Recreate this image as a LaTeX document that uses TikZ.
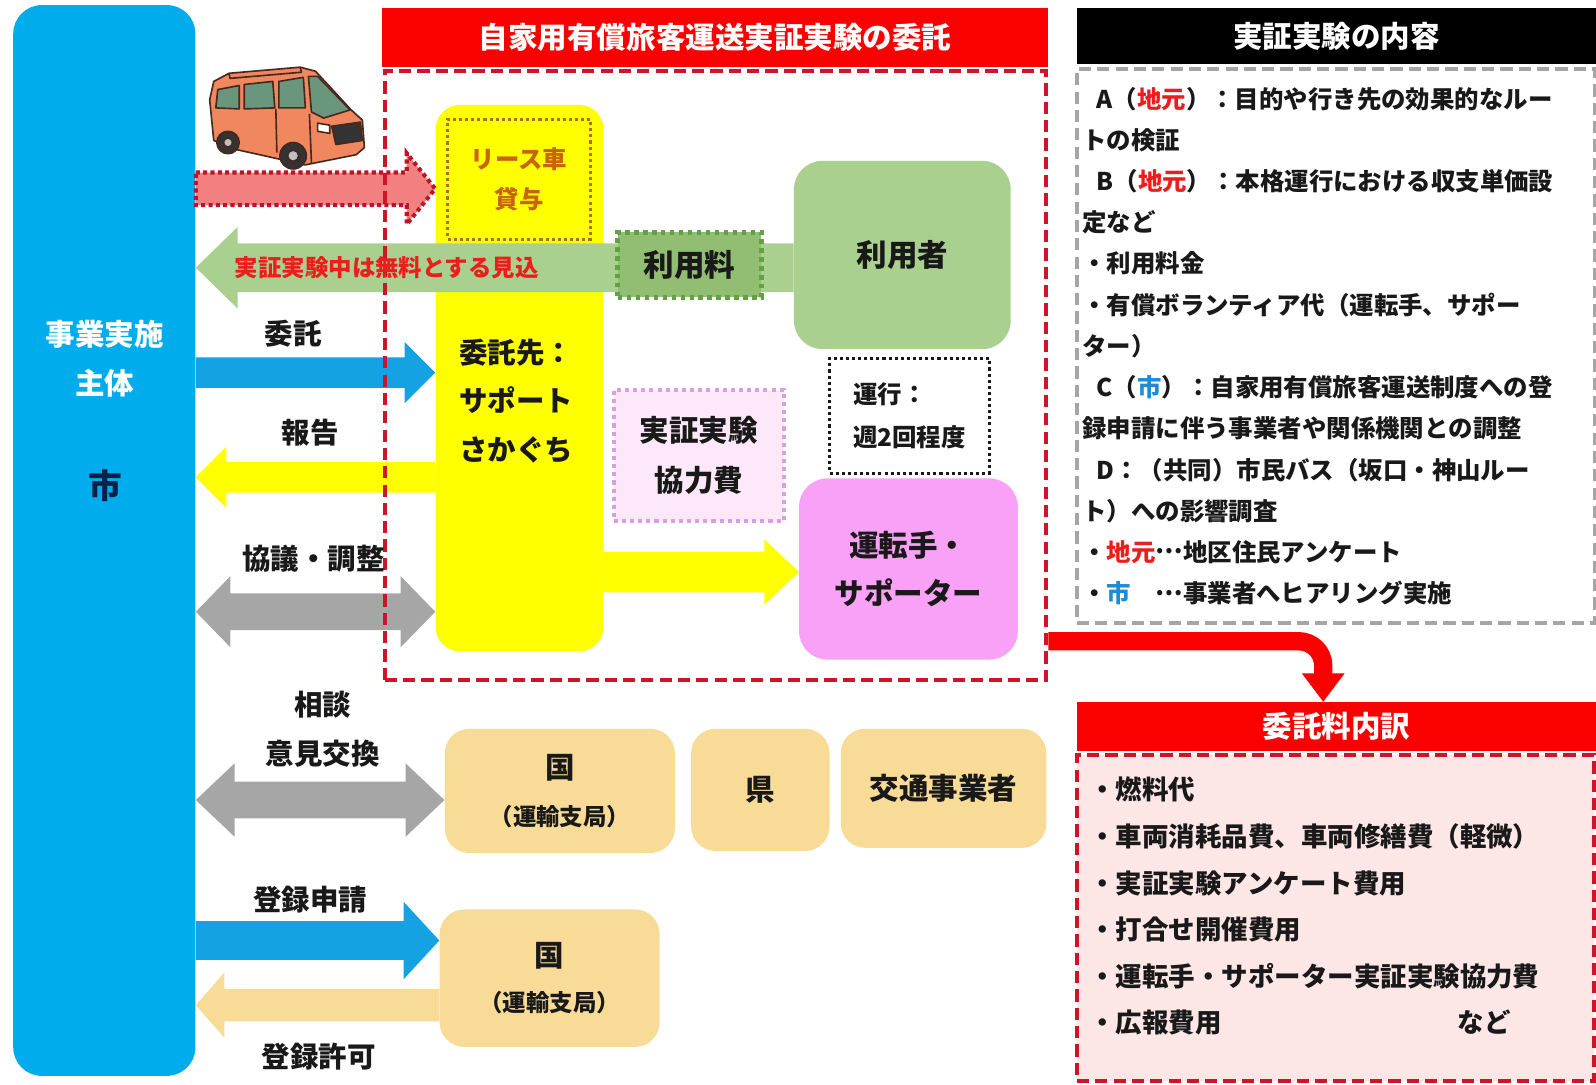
\documentclass[tikz,border=0pt]{standalone}
\usepackage{fontspec}
\setmainfont{Noto Sans CJK JP}
\usetikzlibrary{calc,arrows.meta}

\definecolor{cityblue}{RGB}{0,172,236}
\definecolor{arrowblue}{RGB}{20,162,226}
\definecolor{bannerred}{RGB}{250,0,0}
\definecolor{dashred}{RGB}{205,20,40}
\definecolor{vivyellow}{RGB}{255,255,0}
\definecolor{leafgreen}{RGB}{169,208,142}
\definecolor{feegreen}{RGB}{146,190,115}
\definecolor{feeborder}{RGB}{100,160,70}
\definecolor{lilac}{RGB}{249,160,247}
\definecolor{palepink}{RGB}{253,232,249}
\definecolor{pinkborder}{RGB}{215,160,225}
\definecolor{sand}{RGB}{249,219,152}
\definecolor{midgray}{RGB}{166,166,166}
\definecolor{panelgray}{RGB}{165,165,165}
\definecolor{blush}{RGB}{252,230,230}
\definecolor{salmon}{RGB}{242,128,128}
\definecolor{crimsondot}{RGB}{190,20,40}
\definecolor{inkblack}{RGB}{25,25,25}
\definecolor{navy}{RGB}{10,30,70}
\definecolor{notered}{RGB}{235,30,30}
\definecolor{noteblue}{RGB}{30,140,210}
\definecolor{leaseorange}{RGB}{200,100,10}
\definecolor{leaseborder}{RGB}{170,110,30}
\definecolor{vanorange}{RGB}{240,135,95}
\definecolor{vanline}{RGB}{70,40,30}
\definecolor{vanglass}{RGB}{105,150,125}

\newcommand\jfs[2]{\fontsize{#1pt}{#2pt}\selectfont}
% vertically centred ellipsis
\newcommand\cdotsjp{\raisebox{0.32em}{…}}

% block arrows: style, tail point, tip point, half body, half head, head length
\newcommand\fatright[6]{%
  \fill[#1] let \p1=(#2), \p2=(#3) in
    (\x1,\y1+#4) -- (\x2-#6,\y1+#4) -- (\x2-#6,\y1+#5) -- (\x2,\y1)
    -- (\x2-#6,\y1-#5) -- (\x2-#6,\y1-#4) -- (\x1,\y1-#4) -- cycle;}
\newcommand\fatleft[6]{%
  \fill[#1] let \p1=(#2), \p2=(#3) in
    (\x1,\y1+#4) -- (\x2+#6,\y1+#4) -- (\x2+#6,\y1+#5) -- (\x2,\y1)
    -- (\x2+#6,\y1-#5) -- (\x2+#6,\y1-#4) -- (\x1,\y1-#4) -- cycle;}
\newcommand\fatboth[6]{%
  \fill[#1] let \p1=(#2), \p2=(#3) in
    (\x1,\y1) -- (\x1+#6,\y1+#5) -- (\x1+#6,\y1+#4) -- (\x2-#6,\y1+#4)
    -- (\x2-#6,\y1+#5) -- (\x2,\y1) -- (\x2-#6,\y1-#5) -- (\x2-#6,\y1-#4)
    -- (\x1+#6,\y1-#4) -- (\x1+#6,\y1-#5) -- cycle;}

\tikzset{
  every node/.style={inner sep=0pt, text=inkblack},
  card/.style={rounded corners=12pt, align=center, font=\bfseries\jfs{14.5}{24.5}},
  banner/.style={fill=bannerred, text=white, font=\bfseries\jfs{14.5}{16}},
  redframe/.style={draw=dashred, line width=2pt, dash pattern=on 6pt off 3pt},
  lbl/.style={align=center, font=\bfseries\jfs{14}{24.5}},
}

\begin{document}
\begin{tikzpicture}[x=0.5pt,y=-0.5pt]
\useasboundingbox (0,0) rectangle (1568,1065);
\fill[white] (0,0) rectangle (1568,1065);

% implementing body
\node[fill=cityblue, rounded corners=14pt, minimum width=89.5pt, minimum height=526pt] (city) at (102.5,531) {};

% contractor column
\node[fill=vivyellow, rounded corners=12pt, minimum width=82.5pt, minimum height=268.5pt] (yel) at (510.5,371.5) {};

% partner boxes (placed early so arrows can refer to them)
\node[card, fill=sand, minimum width=113pt, minimum height=61pt, font=\bfseries\jfs{14.5}{23}] (kuni1) at (550,777)
  {国\\{\jfs{11.5}{23}（運輸支局）}};
\node[card, fill=sand, minimum width=68pt, minimum height=60pt] (ken) at (747,776) {県};
\node[card, fill=sand, minimum width=101pt, minimum height=58.5pt] (kotsu) at (927,774.5) {交通事業者};
\node[card, fill=sand, minimum width=108pt, minimum height=67.5pt, font=\bfseries\jfs{14.5}{22.5}] (kuni2) at (540,961)
  {国\\{\jfs{11.5}{22.5}（運輸支局）}};

% block arrows
\fatright{fill=salmon, draw=crimsondot, line width=2pt, dash pattern=on 2pt off 1.6pt}
  {city.east |- 0,185.5}{yel.west |- 0,185.5}{8pt}{17.5pt}{14pt}
\fatright{fill=arrowblue}{city.east |- 0,366}{yel.west |- 0,366}{7.5pt}{15pt}{15pt}
\fatleft{fill=vivyellow}{yel.west |- 0,469}{city.east |- 0,469}{7.5pt}{15pt}{15pt}
\fatboth{fill=midgray}{city.east |- 0,601}{yel.west |- 0,601}{9pt}{17.5pt}{17pt}
\fatright{fill=vivyellow}{yel.east |- 0,562}{1000-215,562}{10pt}{16pt}{17pt}
\fatboth{fill=midgray}{city.east |- 0,786}{kuni1.west |- 0,786}{9pt}{18pt}{19pt}
\fatright{fill=arrowblue}{city.east |- 0,924}{kuni2.west |- 0,924}{9.5pt}{19pt}{17.5pt}
\fatleft{fill=sand}{kuni2.west |- 0,987.5}{city.east |- 0,987.5}{8pt}{16pt}{14pt}

% users and fee flow
\node[card, fill=leafgreen, rounded corners=14pt, minimum width=106.5pt, minimum height=92.5pt,
  font=\bfseries\jfs{15}{18}] (user) at (886.5,250.5) {利用者};
\fatleft{fill=leafgreen}{user.west |- 0,263}{city.east |- 0,263}{12pt}{20pt}{20.5pt}
\node[fill=feegreen, draw=feeborder, line width=2.5pt, dash pattern=on 2.2pt off 2.2pt,
  minimum width=70.5pt, minimum height=32pt, font=\bfseries\jfs{15}{18}] (fee) at (677.5,260) {利用料};

\node[draw=leaseborder, line width=1.5pt, dash pattern=on 1.5pt off 1.5pt, minimum width=70pt,
  minimum height=59pt, align=center, text=leaseorange, font=\bfseries\jfs{12}{20}] (lease) at (510,176) {リース車\\貸与};

\node[fill=palepink, draw=pinkborder, line width=2pt, dash pattern=on 2pt off 2pt, align=center,
  minimum width=83.5pt, minimum height=64.5pt, font=\bfseries\jfs{14.5}{24.5}] (coop) at (686.5,447.5) {実証実験\\協力費};
\node[fill=white, draw=inkblack, line width=1.5pt, dash pattern=on 1.5pt off 1.5pt, align=left,
  minimum width=78.5pt, minimum height=56.5pt, font=\bfseries\jfs{12}{21.5}] (run) at (893.5,408.5) {運行：\\週2回程度};
\node[card, fill=lilac, rounded corners=14pt, minimum width=107.5pt, minimum height=89pt,
  font=\bfseries\jfs{14.5}{24}] (drv) at (892.5,559) {運転手・\\サポーター};

% commissioning frame
\node[banner, minimum width=327.5pt, minimum height=29pt] (ttl) at (702.5,37) {自家用有償旅客運送実証実験の委託};
\node[redframe, minimum width=325pt, minimum height=299pt] (frame) at (703,369) {};

% experiment contents panel
\node[fill=black, text=white, font=\bfseries\jfs{14.5}{16}, minimum width=255pt, minimum height=27.5pt] (ctitle) at (1313,35.5) {実証実験の内容};
\node[draw=panelgray, line width=2pt, dash pattern=on 6pt off 3pt, minimum width=254.5pt, minimum height=272pt] (cpanel) at (1312.5,340) {};
\foreach \ln [count=\i] in {
  {\hspace{7pt}A（\textcolor{notered}{地元}）：目的や行き先の効果的なルー},
  {トの検証},
  {\hspace{7pt}B（\textcolor{notered}{地元}）：本格運行における収支単価設},
  {定など},
  {・利用料金},
  {・有償ボランティア代（運転手、サポー},
  {ター）},
  {\hspace{7pt}C（\textcolor{noteblue}{市}）：自家用有償旅客運送制度への登},
  {録申請に伴う事業者や関係機関との調整},
  {\hspace{7pt}D：（共同）市民バス（坂口・神山ルー},
  {ト）への影響調査},
  {・\textcolor{notered}{地元}\cdotsjp 地区住民アンケート},
  {・\textcolor{noteblue}{市}　\cdotsjp 事業者へヒアリング実施}}
  \node[anchor=west, font=\bfseries\jfs{12}{14}] (item\i) at (1063,{97+40.5*(\i-1)}) {\ln};

% fee breakdown panel
\node[banner, minimum width=255pt, minimum height=24pt] (ftitle) at (1313,714) {委託料内訳};
\node[fill=blush, redframe, minimum width=254pt, minimum height=160pt] (flist) at (1312,902) {};
\foreach \ln [count=\i] in {
  {・燃料代},
  {・車両消耗品費、車両修繕費（軽微）},
  {・実証実験アンケート費用},
  {・打合せ開催費用},
  {・運転手・サポーター実証実験協力費},
  {\makebox[181pt][l]{・広報費用}など}}
  \node[anchor=west, font=\bfseries\jfs{13}{15}] (cost\i) at (1070,{776+45.8*(\i-1)}) {\ln};

% link from the frame to the breakdown
\draw[bannerred, line width=9pt, rounded corners=12pt, -{Triangle[width=20pt,length=14pt]}]
  (frame.east |- 0,630) -| (ftitle.north -| 1300,0);

% labels
\node[align=center, text=white, font=\bfseries\jfs{14.5}{24.5}] (citytxt) at (103,352.5) {事業実施\\主体};
\node[text=navy, font=\bfseries\jfs{16.5}{18}] (shi) at (103,477) {市};
\node[anchor=west, align=left, font=\bfseries\jfs{14}{24}] (ytxt) at (451,394) {委託先：\\サポート\\さかぐち};
\node[lbl] (l1) at (288,328) {委託};
\node[lbl] (l2) at (305,425) {報告};
\node[lbl] (l3) at (308,549) {協議・調整};
\node[lbl] (l4) at (317,716.5) {相談\\意見交換};
\node[lbl] (l5) at (305,884) {登録申請};
\node[lbl] (l6) at (313,1038) {登録許可};
\node[text=notered, font=\bfseries\jfs{11.5}{13}] (l7) at (380,263) {実証実験中は無料とする見込};

% leased van
\begin{scope}[draw=vanline, line width=0.8pt, line join=round]
  \filldraw[fill=vanorange] (206,98) -- (210,80) -- (225,72) -- (295,66) -- (310,70) -- (345,108)
    -- (356,118) -- (358,145) -- (350,152) -- (300,162) -- (228,146) -- (210,138) -- cycle;
  \draw (225,72) -- (226,77) -- (296,71) -- (295,66);
  \filldraw[fill=vanglass] (212,106) -- (214,88) -- (235,84) -- (235,107) -- cycle;
  \filldraw[fill=vanglass] (240,83) -- (268,80) -- (270,106) -- (240,107) -- cycle;
  \filldraw[fill=vanglass] (274,80) -- (298,76) -- (300,106) -- (274,106) -- cycle;
  \filldraw[fill=vanglass] (303,75) -- (312,75) -- (344,108) -- (318,116) -- (306,110) -- cycle;
  \draw (271,107) -- (272,150);
  \draw (304,112) -- (306,160);
  \filldraw[fill=black!80] (326,124) -- (354,120) -- (356,138) -- (330,142) -- cycle;
  \filldraw[fill=white] (312,121) -- (324,123) -- (324,131) -- (312,129) -- cycle;
  \filldraw[fill=black!80] (224,140) circle[radius=11];
  \filldraw[fill=black!25] (224,140) circle[radius=4.5];
  \filldraw[fill=black!80] (288,153) circle[radius=13];
  \filldraw[fill=black!25] (288,153) circle[radius=5.5];
\end{scope}
\end{tikzpicture}
\end{document}
